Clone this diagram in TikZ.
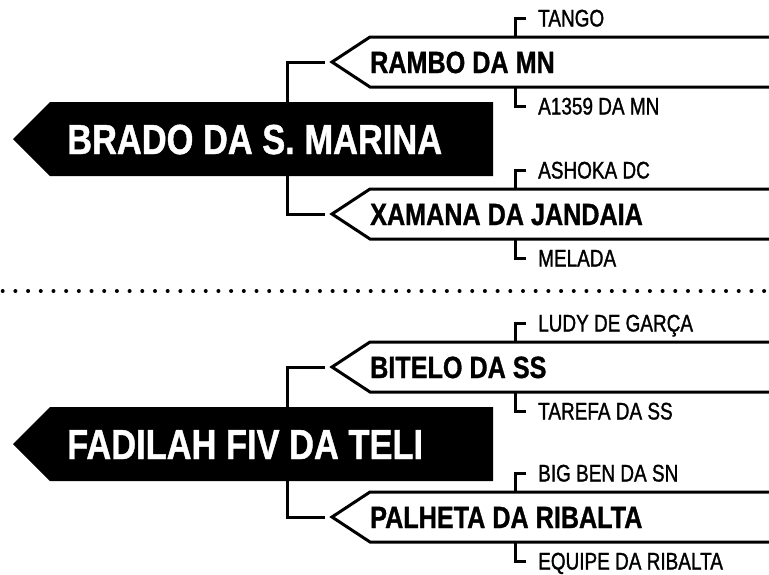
\documentclass[tikz,border=0pt]{standalone}
\usepackage{fontspec}
\newfontfamily\bigfont{Liberation Sans}[FakeStretch=0.82,FakeBold=1]
\newfontfamily\smallfont{Liberation Sans}[FakeStretch=0.79,FakeBold=1.2]
\usetikzlibrary{positioning}

\tikzset{
  mainname/.style={anchor=west,inner sep=0pt,text depth=0pt,text height=30pt,
    text=white,font=\bigfont\bfseries\fontsize{42}{42}\selectfont},
  parentname/.style={anchor=west,inner sep=0pt,text depth=0pt,text height=22pt,
    font=\bigfont\bfseries\fontsize{30.7}{30.7}\selectfont},
  grandname/.style={anchor=west,inner sep=0pt,text depth=0pt,text height=17pt,
    font=\smallfont\fontsize{24}{24}\selectfont},
  link/.style={line width=3pt},
  tag/.style={line width=3pt},
  dots/.style={line width=4pt,line cap=round,dash pattern=on 0pt off 12.69pt},
}

% one parent box with its two parents
\newcommand\branch[5]{%
  \begin{scope}[yshift=-#2pt]
    \coordinate (#1-tip) at (332,62);
    \coordinate (#1-top) at (515,37);
    \coordinate (#1-bot) at (515,87);
    \draw[tag] (#1-tip) ++(437,-25) -- ++(-399,0) -- (#1-tip) -- ++(38,25) -- ++(399,0);
    \node[parentname] (#1) at (370,62) {#3};
    \node[grandname] (#1-up) at (538,18) {#4};
    \node[grandname] (#1-down) at (538,106) {#5};
    \draw[link] ([xshift=-12pt]#1-up.west) -| (#1-top);
    \draw[link] (#1-bot) |- ([xshift=-12pt]#1-down.west);
  \end{scope}}

\begin{document}
\begin{tikzpicture}[x=1pt,y=-1pt]
  \useasboundingbox (0,0) rectangle (769,574);

  % first horse
  \branch{s1}{0}{RAMBO DA MN}{TANGO}{A1359 DA MN}
  \branch{d1}{152}{XAMANA DA JANDAIA}{ASHOKA DC}{MELADA}
  \draw[link] ([xshift=-7pt]s1-tip) -| ([xshift=-45pt]d1-tip) -- ([xshift=-7pt]d1-tip);
  \fill (13,139) -- (50,102) -- (493,102) -- (493,176) -- (50,176) -- cycle;
  \node[mainname] (h1) at (67,139) {BRADO DA S. MARINA};

  \draw[dots] (2.7,291) -- (769,291);

  % second horse
  \branch{s2}{305}{BITELO DA SS}{LUDY DE GARÇA}{TAREFA DA SS}
  \branch{d2}{455}{PALHETA DA RIBALTA}{BIG BEN DA SN}{EQUIPE DA RIBALTA}
  \draw[link] ([xshift=-7pt]s2-tip) -| ([xshift=-45pt]d2-tip) -- ([xshift=-7pt]d2-tip);
  \fill (13,444) -- (50,407) -- (493,407) -- (493,481) -- (50,481) -- cycle;
  \node[mainname] (h2) at (67,444) {FADILAH FIV DA TELI};
\end{tikzpicture}
\end{document}
